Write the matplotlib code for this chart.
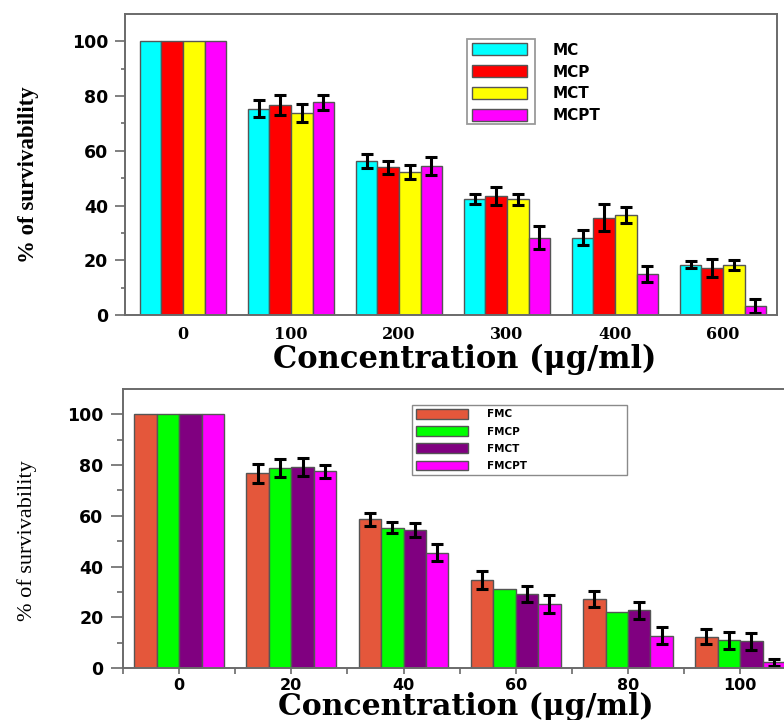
import numpy as np
import matplotlib.pyplot as plt
from matplotlib.patches import Rectangle
from matplotlib.transforms import Bbox
from matplotlib.ticker import MultipleLocator, FixedLocator

nan = np.nan

# top panel: MC series
top_conc = ['0', '100', '200', '300', '400', '600']
top_names = ['MC', 'MCP', 'MCT', 'MCPT']
top_colors = ['#00FFFF', '#FF0000', '#FFFF00', '#FF00FF']
mc = [100, 75.4, 56.3, 42.4, 28.3, 18.4]
mcp = [100, 76.7, 54.0, 43.5, 35.6, 17.2]
mct = [100, 73.8, 52.4, 42.3, 36.6, 18.4]
mcpt = [100, 77.7, 54.5, 28.3, 14.9, 3.3]
mc_err = [nan, 3.2, 2.4, 1.9, 2.7, 1.2]
mcp_err = [nan, 3.7, 2.3, 3.4, 4.8, 3.2]
mct_err = [nan, 3.3, 2.6, 2.0, 2.8, 1.8]
mcpt_err = [nan, 2.8, 3.2, 4.3, 3.0, 2.7]

# bottom panel: FMC series
bot_conc = ['0', '20', '40', '60', '80', '100']
bot_names = ['FMC', 'FMCP', 'FMCT', 'FMCPT']
bot_colors = ['#E4573B', '#00FF00', '#800080', '#FF00FF']
fmc = [100, 76.7, 58.6, 34.7, 27.3, 12.4]
fmcp = [100, 78.8, 55.4, 31.1, 22.0, 10.9]
fmct = [100, 79.3, 54.4, 29.2, 22.7, 10.5]
fmcpt = [100, 77.6, 45.5, 25.2, 12.7, 2.2]
fmc_err = [nan, 3.8, 2.5, 3.4, 3.1, 3.1]
fmcp_err = [nan, 3.5, 2.2, nan, nan, 3.4]
fmct_err = [nan, 3.4, 2.6, 3.3, 3.3, 3.3]
fmcpt_err = [nan, 2.6, 3.2, 3.5, 3.4, 1.4]

spine_col = '#6a6a6a'
tickfont = dict(family='DejaVu Sans', weight='bold', size=12.5)


def draw_bars(ax, series, errs, colors, names):
    x = np.arange(len(series[0]))
    w = 0.2
    bars = []
    for i, (vals, err) in enumerate(zip(series, errs)):
        b = ax.bar(x + (i - 1.5) * w, vals, w, color=colors[i], edgecolor='#555555',
                   linewidth=1.0, label=names[i], yerr=err, capsize=4,
                   error_kw=dict(elinewidth=2.2, capthick=2.2, ecolor='black'))
        bars.append(b)
    return bars


def style_axes(ax):
    for s in ax.spines.values():
        s.set_color(spine_col)
        s.set_linewidth(1.4)
    ax.set_ylim(0, 110)
    ax.yaxis.set_major_locator(FixedLocator([0, 20, 40, 60, 80, 100]))
    ax.yaxis.set_minor_locator(FixedLocator([10, 30, 50, 70, 90]))
    for lab in ax.get_yticklabels():
        lab.set_fontproperties(tickfont)


fig = plt.figure(figsize=(7.84, 7.2), dpi=100)

# ---------- top ----------
ax1 = fig.add_axes([0.1594, 0.5625, 0.8316, 0.418])
bars1 = draw_bars(ax1, [mc, mcp, mct, mcpt], [mc_err, mcp_err, mct_err, mcpt_err],
                  top_colors, top_names)
ax1.set_xlim(-0.537, 5.5)
style_axes(ax1)
ax1.set_xticks(np.arange(len(top_conc)))
ax1.set_xticklabels(top_conc, family='DejaVu Serif', weight='bold', size=11.5)
ax1.tick_params(axis='x', length=0, pad=8)
ax1.tick_params(axis='y', which='major', length=7, width=1.2, color=spine_col, pad=5)
ax1.tick_params(axis='y', which='minor', length=3, width=1.2, color=spine_col)

leg1 = ax1.legend(handles=bars1, loc='upper left', bbox_to_anchor=(0.532, 0.905),
                  frameon=False, handlelength=3.6, handleheight=0.85, handletextpad=1.7,
                  labelspacing=0.45, borderpad=0, borderaxespad=0,
                  prop=dict(family='DejaVu Sans', weight='bold', size=11))

# ---------- bottom ----------
ax2 = fig.add_axes([0.1569, 0.0722, 0.843, 0.3875])
bars2 = draw_bars(ax2, [fmc, fmcp, fmct, fmcpt], [fmc_err, fmcp_err, fmct_err, fmcpt_err],
                  bot_colors, bot_names)
ax2.set_xlim(-0.5, 5.39)
style_axes(ax2)
ax2.spines['right'].set_visible(False)
ax2.set_xticks(np.arange(len(bot_conc)))
ax2.set_xticklabels(bot_conc, family='DejaVu Sans', weight='bold', size=11.5)
ax2.xaxis.set_minor_locator(MultipleLocator(1, offset=0.5))
ax2.tick_params(axis='x', which='both', length=4, width=1.2, color=spine_col, pad=3)
ax2.tick_params(axis='y', which='major', length=9, width=1.2, color=spine_col, pad=5)
ax2.tick_params(axis='y', which='minor', length=4, width=1.2, color=spine_col)

leg2 = ax2.legend(handles=bars2, loc='upper left', bbox_to_anchor=(0.437, 0.685, 0.325, 0.258),
                  mode='expand', borderaxespad=0, fancybox=False, edgecolor='#8a8a8a',
                  framealpha=1, handlelength=5, handleheight=1.05, handletextpad=1.8,
                  labelspacing=0.65, borderpad=0.4,
                  prop=dict(family='DejaVu Sans', weight='bold', size=7.5))
leg2.get_frame().set_linewidth(1.0)

# axis titles
fig.text(29 / 784, 1 - 175 / 720, '% of survivability', rotation=90, ha='center', va='center',
         family='Liberation Serif', weight='bold', size=16.5)
fig.text(465 / 784, 1 - 368 / 720, 'Concentration (μg/ml)', ha='center', va='baseline',
         family='DejaVu Serif', weight='bold', size=22)
fig.text(27 / 784, 1 - 541 / 720, '% of survivability', rotation=90, ha='center', va='center',
         family='Liberation Serif', size=16)
fig.text(466 / 784, 1 - 715 / 720, 'Concentration (μg/ml)', ha='center', va='baseline',
         family='DejaVu Serif', weight='bold', size=21.5)

# frame around the top legend handles only
fig.canvas.draw()
r = fig.canvas.get_renderer()
bb = Bbox.union([p.get_window_extent(r) for p in leg1.get_patches()])
bb = Bbox.from_extents(bb.x0 - 5, bb.y0 - 3, bb.x1 + 8, bb.y1 + 4)
fb = bb.transformed(fig.transFigure.inverted())
fig.patches.append(Rectangle((fb.x0, fb.y0), fb.width, fb.height, transform=fig.transFigure,
                             fill=False, edgecolor='#9a9a9a', linewidth=1.3))

fig.savefig('out.png', dpi=100)
